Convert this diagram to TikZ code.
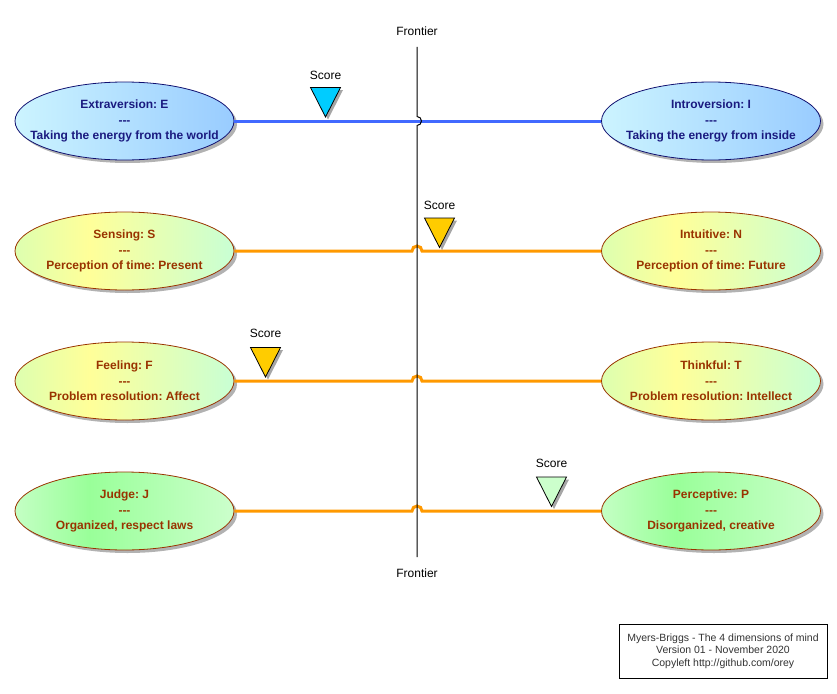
\documentclass[tikz,border=0pt]{standalone}
\usepackage{fontspec}
\setmainfont{Liberation Sans}
\usetikzlibrary{shapes.geometric,shadows}
\definecolor{bL}{HTML}{CCF4FF}
\definecolor{bR}{HTML}{99CCFF}
\definecolor{bBorder}{HTML}{101070}
\definecolor{bText}{HTML}{1A1A80}
\definecolor{yL}{HTML}{DDFFB0}
\definecolor{yM}{HTML}{FFFF99}
\definecolor{yR}{HTML}{C8FFD4}
\definecolor{gL}{HTML}{C4FFC4}
\definecolor{gM}{HTML}{99FF99}
\definecolor{gR}{HTML}{CCFFCC}
\definecolor{brn}{HTML}{993300}
\definecolor{blueline}{HTML}{4169FF}
\definecolor{orangeline}{HTML}{FF9900}
\definecolor{triC}{HTML}{00CCFF}
\definecolor{triY}{HTML}{FFCC00}
\definecolor{triG}{HTML}{CCFFCC}
\pgfdeclarehorizontalshading{blueshade}{100bp}{color(0bp)=(bL); color(25bp)=(bL); color(75bp)=(bR); color(100bp)=(bR)}
\pgfdeclarehorizontalshading{yelshade}{100bp}{color(0bp)=(yL); color(25bp)=(yL); color(42bp)=(yM); color(75bp)=(yR); color(100bp)=(yR)}
\pgfdeclarehorizontalshading{grnshade}{100bp}{color(0bp)=(gL); color(25bp)=(gL); color(42bp)=(gM); color(75bp)=(gR); color(100bp)=(gR)}
\newcommand{\tripledash}{-\kern0pt-\kern0pt-}
\frenchspacing
\begin{document}
\begin{tikzpicture}[x=1pt,y=-1pt,
  ell/.style={ellipse, minimum width=219pt, minimum height=78pt, inner xsep=-45pt, inner ysep=0pt, align=center,
    font=\bfseries\fontsize{12}{15.5}\selectfont,
    drop shadow={shadow xshift=3pt, shadow yshift=-3pt, opacity=0.3, fill=black}},
  blueell/.style={ell, draw=bBorder, line width=0.8pt, shading=blueshade, text=bText},
  yell/.style={ell, draw=brn, line width=0.8pt, shading=yelshade, text=brn},
  gell/.style={ell, draw=brn, line width=0.8pt, shading=grnshade, text=brn},
  bline/.style={draw=blueline, line width=3pt},
  oline/.style={draw=orangeline, line width=3pt},
  tri/.style={draw=black, line width=0.8pt, line join=miter, fill=#1,
    drop shadow={shadow xshift=2.5pt, shadow yshift=-2.5pt, opacity=0.35, fill=black}},
  lbl/.style={font=\fontsize{12}{14}\selectfont, inner sep=0pt},
  frontline/.style={draw=black, line width=1pt}
]
\useasboundingbox (0,0) rectangle (837,693);

% ellipses
\node[blueell] (E) at (124.5,121) {Extraversion: E\\\tripledash\\Taking the energy from the world};
\node[blueell] (I) at (711,121) {Introversion: I\\\tripledash\\Taking the energy from inside};
\node[yell] (S) at (124.5,251) {Sensing: S\\\tripledash\\Perception of time: Present};
\node[yell] (N) at (711,251) {Intuitive: N\\\tripledash\\Perception of time: Future};
\node[yell] (F) at (124.5,381) {Feeling: F\\\tripledash\\Problem resolution: Affect};
\node[yell] (T) at (711,381) {Thinkful: T\\\tripledash\\Problem resolution: Intellect};
\node[gell] (J) at (124.5,511) {Judge: J\\\tripledash\\Organized, respect laws};
\node[gell] (P) at (711,511) {Perceptive: P\\\tripledash\\Disorganized, creative};

% horizontal connectors
\draw[bline] (E.east) -- (I.west);
\draw[oline] (S.east) -- (412,251) arc[start angle=180,end angle=0,radius=5pt] -- (N.west);
\draw[oline] (F.east) -- (412,381) arc[start angle=180,end angle=0,radius=5pt] -- (T.west);
\draw[oline] (J.east) -- (412,511) arc[start angle=180,end angle=0,radius=5pt] -- (P.west);

% frontier
\node[lbl] (ft) at (417,31) {Frontier};
\node[lbl] (fb) at (417,573) {Frontier};
\coordinate (f1) at (417,47);
\coordinate (f2) at (417,557);
\draw[frontline] (f1) -- (417,116.5) arc[start angle=90,end angle=-90,radius=4.5pt] -- (f2);

% scores
\filldraw[tri=triC] (310.5,87.5) -- (340.5,87.5) -- (325.5,117) -- cycle;
\node[lbl] (s1) at (325.5,75) {Score};
\filldraw[tri=triY] (424.5,218) -- (454.5,218) -- (439.5,247.5) -- cycle;
\node[lbl] (s2) at (439.5,205) {Score};
\filldraw[tri=triY] (250.5,347.5) -- (280.5,347.5) -- (265.5,377) -- cycle;
\node[lbl] (s3) at (265.5,333) {Score};
\filldraw[tri=triG] (536.5,477) -- (566.5,477) -- (551.5,506.5) -- cycle;
\node[lbl] (s4) at (551.5,463) {Score};

% legend
\node[draw=black, line width=0.8pt, fill=white, minimum width=208pt, minimum height=54pt,
  inner sep=0pt, align=center, text=black!80, font=\fontsize{10.5}{12.5}\selectfont] (legend) at (723,651)
  {Myers-Briggs - The 4 dimensions of mind\\Version 01 - November 2020\\Copyleft http://github.com/orey};
\end{tikzpicture}
\end{document}
